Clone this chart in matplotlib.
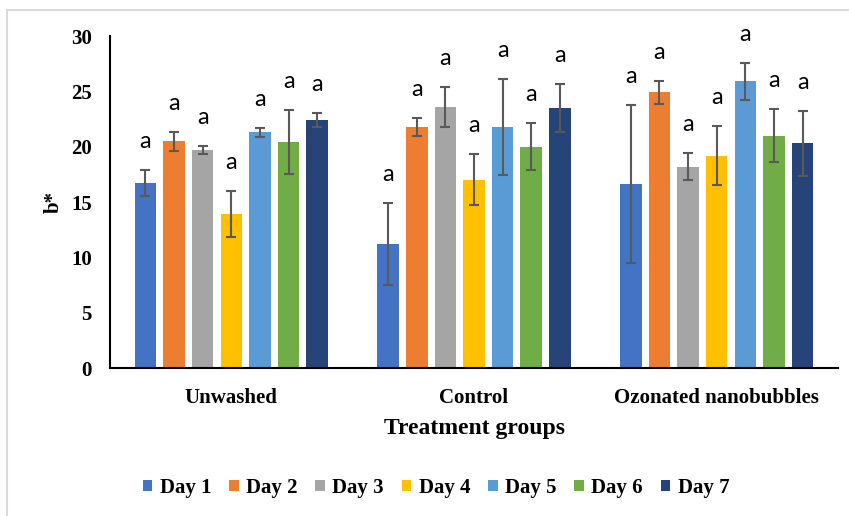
import numpy as np
import matplotlib.pyplot as plt
from matplotlib.patches import Rectangle

# Data
groups = ['Unwashed', 'Control', 'Ozonated nanobubbles']
days = ['Day 1', 'Day 2', 'Day 3', 'Day 4', 'Day 5', 'Day 6', 'Day 7']
colors = ['#4472C4', '#ED7D31', '#A5A5A5', '#FFC000', '#5B9BD5', '#70AD47', '#264478']

# mean b* per day, one list per group
unwashed = [16.7, 20.5, 19.7, 13.9, 21.3, 20.4, 22.4]
control = [11.2, 21.8, 23.6, 17.0, 21.8, 20.0, 23.5]
ozonated = [16.6, 24.9, 18.2, 19.2, 25.9, 21.0, 20.3]

unwashed_err = [1.2, 0.85, 0.4, 2.05, 0.4, 2.9, 0.6]
control_err = [3.7, 0.8, 1.8, 2.3, 4.35, 2.1, 2.2]
ozonated_err = [7.15, 1.0, 1.2, 2.7, 1.7, 2.4, 2.95]

letters = ['a'] * 7

means = np.array([unwashed, control, ozonated])
errs = np.array([unwashed_err, control_err, ozonated_err])

fig = plt.figure(figsize=(8.49, 5.16), dpi=100)
ax = fig.add_axes([110 / 849, 1 - 368 / 516, 728 / 849, 332 / 516])

serif = 'Liberation Serif'
x = np.arange(len(groups))
pitch = 0.118
width = 0.089

for i, day in enumerate(days):
    pos = x + (i - 3) * pitch
    ax.bar(pos, means[:, i], width, color=colors[i], label=day, zorder=2)
    ax.errorbar(pos, means[:, i], yerr=errs[:, i], fmt='none', ecolor='#595959',
                elinewidth=1.5, capsize=3.5, capthick=1.5, zorder=3)
    for j in range(len(groups)):
        ax.annotate(letters[i], (pos[j], means[j, i] + errs[j, i]),
                    xytext=(0, 13), textcoords='offset points', ha='center',
                    va='bottom', fontsize=17, family='Lato', color='#000000')

ax.set_xlim(-0.5, 2.5)
ax.set_ylim(0, 30)
ax.set_yticks(range(0, 31, 5))
ax.set_xticks(x)
ax.set_xticklabels(groups)
ax.tick_params(length=0)
ax.tick_params(axis='y', pad=13)
ax.tick_params(axis='x', pad=14.5)
for lab in ax.get_xticklabels() + ax.get_yticklabels():
    lab.set_fontfamily(serif)
    lab.set_fontweight('bold')
    lab.set_fontsize(15)

for s in ['top', 'right']:
    ax.spines[s].set_visible(False)
ax.spines['left'].set_linewidth(1.5)
ax.spines['bottom'].set_linewidth(1.5)

ax.set_ylabel('b*', family=serif, fontweight='bold', fontsize=15, labelpad=5)
ax.set_xlabel('Treatment groups', family=serif, fontweight='bold', fontsize=17, labelpad=7)

leg = fig.legend(loc='center', bbox_to_anchor=(436 / 849, 1 - 488 / 516), ncol=7,
                 frameon=False, handlelength=0.45, handleheight=0.45,
                 handletextpad=0.35, columnspacing=0.87,
                 prop={'family': serif, 'weight': 'bold', 'size': 15})

# light border of the chart area (cropped at right and bottom)
fig.patches.append(Rectangle((7 / 849, -0.1), 1.2, 1 - 10 / 516 + 0.1,
                             transform=fig.transFigure, fill=False,
                             edgecolor='#D9D9D9', linewidth=1.5))

fig.savefig('out.png', dpi=100)
